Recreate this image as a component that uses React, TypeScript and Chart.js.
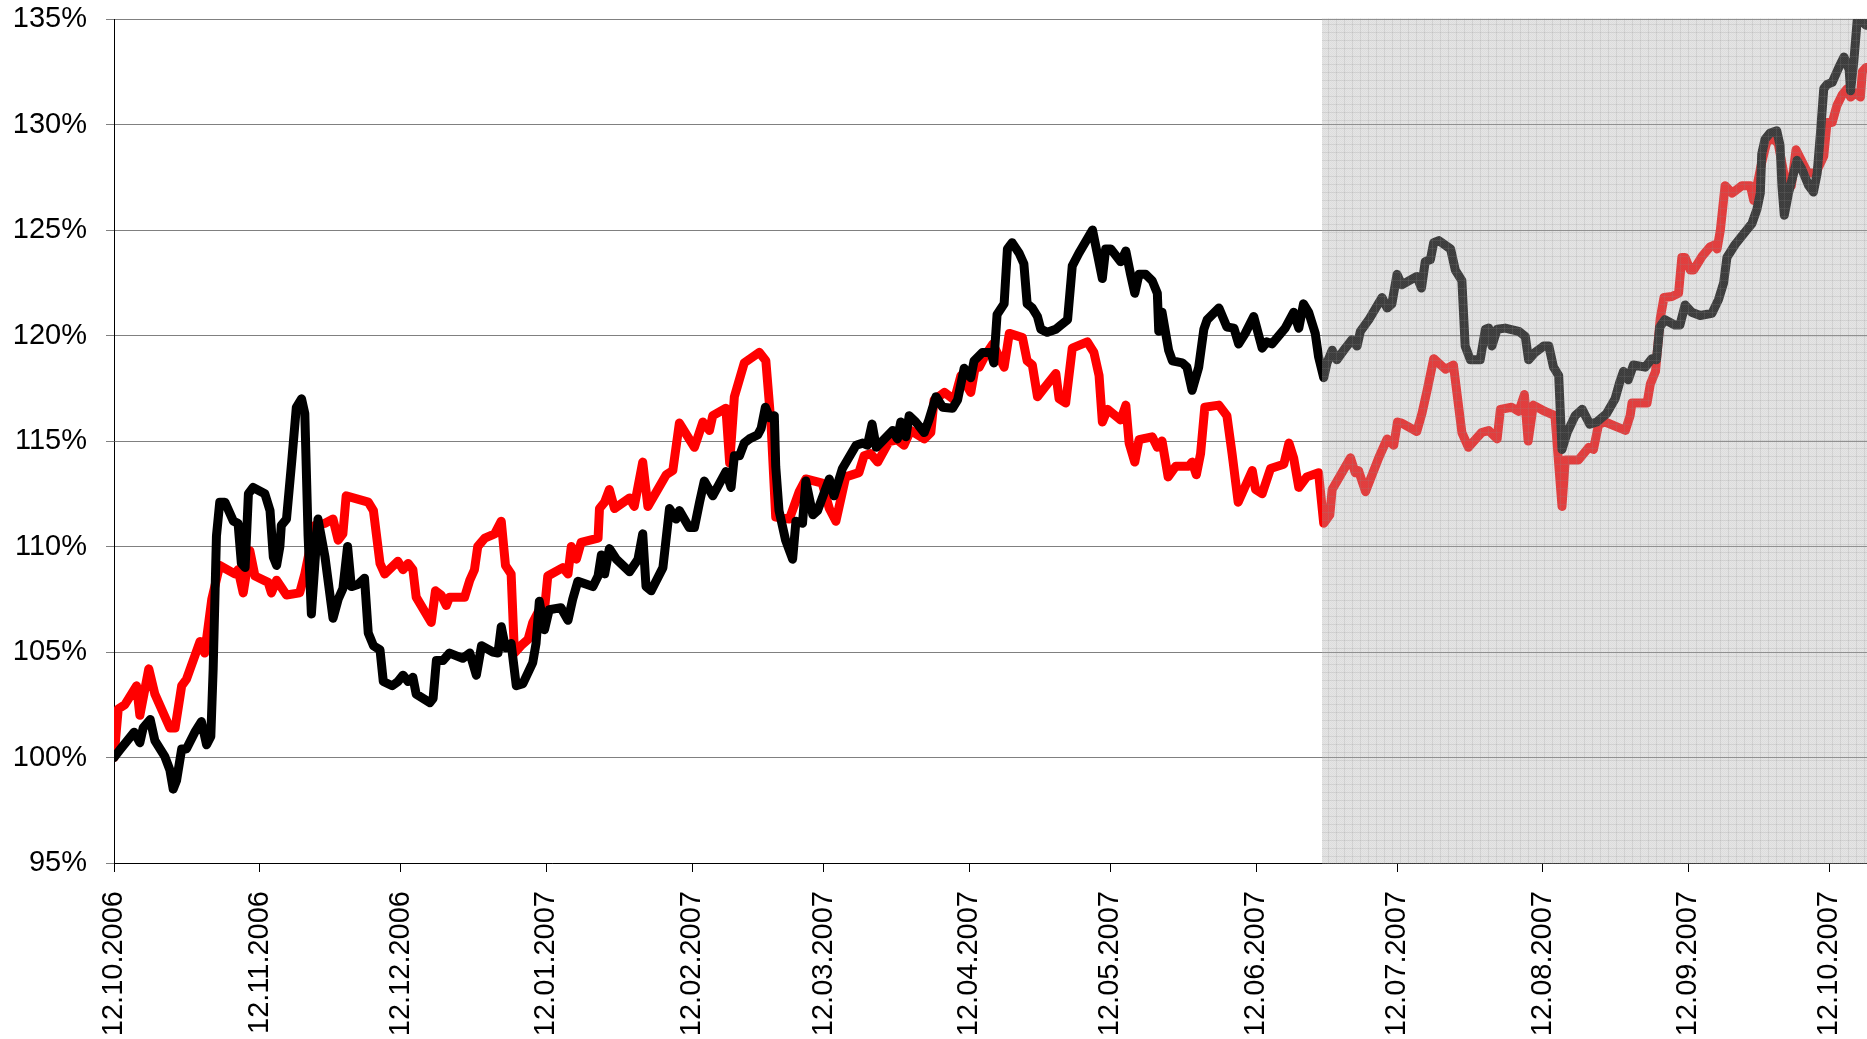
import React, { useEffect, useRef } from "react";
import { Chart, registerables } from "chart.js";

Chart.register(...registerables);

// x = days since 12.10.2006
const TICK_DAYS = [0, 31, 61, 92, 123, 151, 182, 212, 243, 273, 304, 335, 365];
const TICK_LABELS = [
  "12.10.2006", "12.11.2006", "12.12.2006", "12.01.2007", "12.02.2007", "12.03.2007",
  "12.04.2007", "12.05.2007", "12.06.2007", "12.07.2007", "12.08.2007", "12.09.2007", "12.10.2007",
];
const X_MAX_DAY = 373;
const SHADE_START_DAY = 257;
const Y_TICKS = [95, 100, 105, 110, 115, 120, 125, 130, 135];

const BLACK_DAYS = [
  0, 1.4, 4.3, 5.5, 6.2, 7.7, 8.7, 10.8, 11.9, 12.6, 13.3, 14.4, 15.4, 17.2, 18.6, 19.7, 20.6, 21.1, 21.8, 22.5,
  23.6, 25.4, 26.4, 27.1, 27.9, 28.6, 29.6, 32.1, 33.2, 33.9, 34.6, 35.3, 35.6, 36.7, 37.8, 38.8, 39.9, 40.6, 41.3, 42.0,
  43.4, 44.9, 46.6, 47.7, 48.7, 49.7, 50.5, 51.9, 53.3, 54.1, 55.2, 56.6, 57.3, 59.2, 60.4, 61.5, 62.6, 63.6, 64.3, 67.2,
  67.9, 68.6, 70.0, 71.4, 74.2, 75.7, 77.1, 78.2, 80.6, 81.7, 82.4, 83.3, 84.5, 85.6, 87.0, 89.1, 89.8, 90.5, 91.6, 92.6,
  95.1, 96.6, 97.6, 98.7, 101.9, 103.0, 103.7, 104.4, 105.4, 106.9, 109.7, 111.5, 112.5, 113.2, 114.3, 116.8, 118.2, 119.6, 120.3, 122.4,
  123.5, 124.6, 125.6, 127.4, 130.2, 131.3, 132.0, 133.1, 134.1, 135.2, 137.0, 137.7, 138.6, 139.5, 140.5, 140.8, 141.5, 142.9, 144.4, 145.1,
  146.5, 147.2, 148.7, 149.7, 152.2, 153.2, 155.0, 157.9, 159.3, 160.3, 161.3, 162.2, 165.7, 166.7, 167.4, 168.5, 169.2, 170.6, 172.4, 173.4,
  174.9, 176.3, 178.4, 179.5, 180.9, 182.3, 183.0, 184.8, 186.6, 187.2, 187.9, 189.4, 190.1, 191.1, 192.6, 193.6, 194.3, 195.4, 196.5, 197.2,
  198.6, 200.4, 201.5, 202.9, 203.9, 205.3, 208.2, 209.3, 210.3, 211.0, 212.1, 214.2, 215.3, 216.3, 217.2, 218.1, 219.5, 220.9, 222.0, 222.3,
  223.0, 224.4, 225.2, 227.3, 228.3, 229.4, 230.8, 231.9, 232.6, 235.1, 236.8, 238.3, 239.3, 240.7, 242.5, 244.3, 245.3, 246.4, 249.2, 251.0,
  252.1, 253.1, 254.2, 255.6, 256.3, 257.4, 258.1, 259.2, 260.2, 262.0, 263.4, 264.5, 265.2, 267.0, 269.8, 270.9, 271.9, 273.0, 274.0, 277.2,
  278.2, 279.0, 280.1, 280.8, 281.9, 284.4, 285.4, 286.8, 287.5, 288.6, 290.7, 291.8, 292.5, 293.2, 294.3, 296.0, 298.9, 300.3, 301.0, 302.4,
  304.2, 305.3, 306.3, 307.4, 308.1, 309.2, 310.9, 312.4, 314.0, 315.5, 317.6, 319.4, 320.4, 321.2, 322.2, 323.3, 325.8, 327.2, 328.2, 328.9,
  330.0, 332.1, 333.2, 334.3, 335.7, 337.5, 340.0, 341.4, 342.5, 343.2, 344.9, 347.4, 348.5, 349.6, 350.3, 350.6, 351.3, 352.4, 353.8, 354.5,
  354.9, 355.4, 356.3, 358.1, 359.1, 360.6, 361.6, 362.4, 363.1, 363.8, 364.5, 365.6, 367.0, 368.1, 369.2, 369.5, 370.2, 370.9, 372.0, 372.8,
];
const BLACK_VALUES = [
  100.0, 100.4, 101.2, 100.7, 101.4, 101.8, 100.8, 100.05, 99.4, 98.5, 98.9, 100.4, 100.4, 101.2, 101.7, 100.6, 101.0, 104.2, 110.5, 112.1,
  112.1, 111.2, 111.1, 109.2, 109.0, 112.5, 112.8, 112.5, 111.7, 109.5, 109.1, 110.0, 111.0, 111.3, 114.0, 116.6, 117.0, 116.3, 110.5, 106.8,
  111.3, 109.5, 106.6, 107.5, 108.0, 110.0, 108.1, 108.2, 108.5, 105.9, 105.3, 105.1, 103.6, 103.4, 103.6, 103.9, 103.6, 103.8, 103.0, 102.6,
  102.8, 104.6, 104.6, 104.95, 104.7, 104.95, 103.9, 105.3, 105.0, 104.95, 106.2, 105.2, 105.4, 103.4, 103.5, 104.5, 105.4, 107.4, 106.05, 107.0,
  107.1, 106.5, 107.5, 108.35, 108.1, 108.6, 109.6, 108.7, 109.9, 109.4, 108.8, 109.4, 110.6, 108.1, 107.9, 109.0, 111.8, 111.3, 111.7, 110.9,
  110.9, 112.1, 113.1, 112.4, 113.55, 112.8, 114.3, 114.3, 114.9, 115.1, 115.3, 115.6, 116.6, 116.1, 116.2, 113.8, 111.7, 110.3, 109.4, 111.2,
  111.1, 113.1, 111.5, 111.7, 113.2, 112.4, 113.7, 114.8, 114.9, 114.8, 115.8, 114.7, 115.5, 115.1, 115.9, 115.2, 116.2, 115.9, 115.4, 116.0,
  117.1, 116.6, 116.55, 116.95, 118.45, 118.0, 118.8, 119.2, 119.2, 118.7, 121.0, 121.5, 124.1, 124.4, 123.9, 123.4, 121.5, 121.3, 120.9, 120.3,
  120.15, 120.3, 120.5, 120.75, 123.3, 123.9, 125.0, 123.8, 122.7, 124.1, 124.1, 123.5, 124.0, 122.9, 122.0, 122.9, 122.9, 122.6, 122.0, 120.2,
  121.1, 119.3, 118.8, 118.7, 118.5, 117.4, 118.5, 120.3, 120.75, 121.3, 120.4, 120.35, 119.6, 120.1, 120.9, 119.4, 119.7, 119.6, 120.35, 121.1,
  120.35, 121.5, 121.1, 120.1, 119.0, 118.0, 118.7, 119.3, 118.85, 119.4, 119.8, 119.5, 120.2, 120.75, 121.8, 121.3, 121.5, 122.9, 122.4, 122.8,
  122.25, 123.5, 123.6, 124.4, 124.5, 124.1, 123.1, 122.6, 119.5, 118.85, 118.85, 120.3, 120.35, 119.5, 120.3, 120.35, 120.2, 119.95, 118.85, 119.2,
  119.5, 119.5, 118.5, 118.1, 114.6, 115.4, 116.2, 116.5, 115.8, 115.9, 116.3, 117.0, 117.8, 118.3, 117.9, 118.6, 118.5, 118.9, 118.85, 120.4,
  120.75, 120.5, 120.5, 121.45, 121.1, 120.95, 121.05, 121.7, 122.5, 123.7, 124.3, 125.0, 125.3, 126.0, 126.75, 128.6, 129.3, 129.6, 129.7, 129.0,
  127.1, 125.7, 126.75, 128.3, 127.9, 127.1, 126.8, 127.7, 129.6, 131.7, 131.9, 132.0, 132.7, 133.2, 132.6, 131.6, 133.0, 134.9, 134.9, 134.7,
];

const RED_DAYS = [
  0, 0.9, 2.3, 4.8, 5.5, 7.4, 8.7, 11.9, 13.0, 14.4, 15.4, 18.3, 19.3, 20.8, 22.5, 25.7, 26.4, 27.5, 28.9, 30.0,
  32.8, 33.5, 34.6, 36.7, 39.5, 40.6, 42.7, 44.9, 46.6, 47.7, 48.7, 49.4, 54.1, 55.2, 56.6, 57.6, 60.4, 61.5, 62.6, 63.6,
  64.3, 67.5, 68.4, 69.6, 70.7, 71.4, 74.6, 75.7, 76.7, 77.4, 78.9, 81.0, 82.4, 83.3, 84.5, 85.2, 86.6, 88.1, 89.1, 90.5,
  91.6, 92.3, 95.5, 96.6, 97.3, 98.4, 99.4, 103.0, 103.3, 104.4, 105.4, 106.5, 109.7, 110.7, 112.5, 113.6, 117.5, 118.9, 120.3, 123.5,
  125.3, 126.7, 127.4, 130.2, 131.0, 132.0, 134.1, 137.3, 138.7, 139.8, 140.8, 143.7, 145.8, 147.2, 150.7, 152.2, 153.6, 155.7, 158.5, 159.6,
  161.0, 162.5, 164.9, 166.7, 168.1, 169.5, 172.4, 173.8, 174.5, 176.7, 178.8, 180.2, 182.3, 183.4, 184.1, 185.5, 187.0, 189.4, 190.5, 193.3,
  194.3, 195.4, 196.5, 197.9, 200.4, 201.1, 202.5, 203.9, 207.1, 208.5, 209.6, 210.3, 211.4, 214.2, 215.3, 216.0, 217.2, 218.1, 220.9, 222.0,
  223.0, 224.3, 225.9, 228.7, 229.4, 230.3, 231.2, 232.1, 235.1, 236.8, 237.9, 239.2, 242.2, 242.9, 244.3, 246.1, 248.9, 250.0, 251.0, 252.1,
  253.8, 256.3, 257.4, 258.7, 259.2, 263.1, 264.1, 264.8, 266.3, 269.1, 270.9, 272.3, 273.1, 274.0, 277.2, 278.3, 279.4, 280.8, 283.3, 285.0,
  286.8, 288.2, 291.0, 292.5, 294.3, 295.0, 297.4, 298.9, 300.1, 300.9, 302.0, 304.5, 306.6, 308.1, 308.8, 311.6, 313.8, 314.8, 315.9, 317.3,
  319.4, 321.6, 322.6, 323.0, 326.2, 326.9, 328.0, 329.0, 329.8, 331.5, 332.9, 333.6, 334.3, 335.4, 336.1, 337.9, 339.6, 340.7, 341.1, 341.8,
  342.8, 344.3, 346.4, 348.2, 348.9, 349.6, 350.6, 351.6, 352.7, 354.1, 355.8, 356.9, 357.9, 360.4, 362.1, 363.8, 364.5, 365.6, 366.6, 367.7,
  368.8, 369.5, 370.5, 371.6, 372.0, 372.8,
];
const RED_VALUES = [
  100.0, 102.3, 102.5, 103.4, 102.0, 104.2, 103.0, 101.4, 101.4, 103.4, 103.7, 105.5, 104.95, 107.5, 109.1, 108.7, 108.9, 107.8, 109.8, 108.6,
  108.3, 107.8, 108.4, 107.7, 107.8, 108.7, 111.0, 111.1, 111.3, 110.3, 110.6, 112.4, 112.1, 111.7, 109.2, 108.7, 109.3, 108.9, 109.2, 108.9,
  107.6, 106.4, 107.9, 107.7, 107.2, 107.6, 107.6, 108.4, 108.9, 110.0, 110.4, 110.6, 111.2, 109.1, 108.7, 104.95, 105.3, 105.6, 106.4, 107.0,
  107.0, 108.6, 109.0, 108.7, 110.0, 109.4, 110.2, 110.4, 111.8, 112.1, 112.7, 111.8, 112.3, 111.9, 114.0, 111.9, 113.4, 113.6, 115.85, 114.7,
  115.9, 115.5, 116.2, 116.55, 113.95, 117.1, 118.7, 119.2, 118.8, 115.8, 111.4, 111.3, 112.6, 113.2, 113.0, 111.8, 111.2, 113.3, 113.5, 114.3,
  114.4, 114.0, 114.97, 115.05, 114.8, 115.5, 115.1, 115.4, 116.95, 117.3, 116.95, 118.1, 117.3, 118.7, 118.5, 119.1, 119.6, 118.5, 120.1, 119.9,
  118.8, 118.6, 117.1, 117.5, 118.2, 117.0, 116.8, 119.4, 119.7, 119.2, 118.1, 115.9, 116.5, 116.0, 116.7, 114.9, 114.0, 115.06, 115.2, 114.7,
  115.0, 113.3, 113.8, 113.8, 114.0, 113.4, 114.4, 116.6, 116.7, 116.2, 114.4, 112.1, 113.6, 112.7, 112.5, 113.7, 113.9, 114.9, 114.2, 112.8,
  113.3, 113.5, 111.1, 111.5, 112.7, 114.2, 113.5, 113.6, 112.6, 114.2, 115.1, 114.8, 115.9, 115.85, 115.45, 116.3, 117.4, 118.9, 118.4, 118.6,
  115.4, 114.7, 115.4, 115.5, 115.1, 116.5, 116.6, 116.4, 117.2, 115.0, 116.7, 116.4, 116.2, 111.9, 114.1, 114.1, 114.7, 114.6, 115.8, 115.9,
  115.7, 115.5, 116.2, 116.8, 116.8, 117.7, 118.3, 120.8, 121.8, 121.85, 122.0, 123.7, 123.7, 123.1, 123.1, 123.75, 124.2, 124.3, 124.1, 125.0,
  127.1, 126.75, 127.1, 127.1, 126.4, 127.1, 128.2, 129.1, 129.4, 129.1, 127.1, 127.1, 128.8, 127.7, 127.7, 128.5, 130.1, 130.1, 130.9, 131.4,
  131.7, 131.3, 131.5, 131.3, 132.5, 132.7,
];

const FONT_FAMILY = "'Liberation Sans', Arial, sans-serif";

function makePattern(ctx: CanvasRenderingContext2D): CanvasPattern | string {
  const c = document.createElement("canvas");
  c.width = 8;
  c.height = 8;
  const p = c.getContext("2d");
  if (!p) return "rgba(175,175,175,0.34)";
  p.fillStyle = "rgba(175,175,175,0.33)";
  p.fillRect(0, 0, 8, 8);
  p.fillStyle = "rgba(150,150,150,0.10)";
  for (let y = 0; y < 8; y++) {
    for (let x = y % 2; x < 8; x += 2) p.fillRect(x, y, 1, 1);
  }
  p.fillStyle = "rgba(140,140,140,0.18)";
  p.fillRect(0, 0, 8, 1);
  p.fillRect(0, 0, 1, 8);
  return ctx.createPattern(c, "repeat") || "rgba(175,175,175,0.34)";
}

const shadePlugin = {
  id: "shadeRegion",
  afterDatasetsDraw(chart: any) {
    const { ctx, chartArea, scales } = chart;
    const x0 = Math.round(scales.x.getPixelForValue(SHADE_START_DAY));
    ctx.save();
    ctx.fillStyle = makePattern(ctx);
    ctx.fillRect(x0, chartArea.top - 0.5, chartArea.right - x0, chartArea.bottom - chartArea.top + 1.5);
    ctx.restore();
  },
};

export default function App() {
  const canvasRef = useRef<HTMLCanvasElement | null>(null);

  useEffect(() => {
    document.body.style.margin = "0";
    const canvas = canvasRef.current;
    if (!canvas) return;
    const black = BLACK_DAYS.map((d, i) => ({ x: d, y: BLACK_VALUES[i] }));
    const red = RED_DAYS.map((d, i) => ({ x: d, y: RED_VALUES[i] }));

    const lineStyle = {
      borderWidth: 9,
      pointRadius: 0,
      tension: 0,
      borderJoinStyle: "round",
      borderCapStyle: "round",
      fill: false,
    };

    const chart = new Chart(canvas, {
      type: "line",
      data: {
        datasets: [
          { data: black, borderColor: "#000000", backgroundColor: "#000000", ...lineStyle },
          { data: red, borderColor: "#FF0000", backgroundColor: "#FF0000", ...lineStyle },
        ],
      },
      options: {
        animation: false,
        responsive: false,
        events: [],
        layout: { padding: { top: 19, left: 0, right: 0, bottom: 0 } },
        plugins: { legend: { display: false }, tooltip: { enabled: false } },
        scales: {
          x: {
            type: "linear",
            min: 0,
            max: X_MAX_DAY,
            afterBuildTicks: (s: any) => {
              s.ticks = TICK_DAYS.map((v) => ({ value: v }));
            },
            afterFit: (s: any) => {
              s.height = 176;
              s.paddingLeft = 0;
              s.paddingRight = 0;
              s.paddingTop = 0;
              s.paddingBottom = 0;
            },
            grid: { drawOnChartArea: false, drawTicks: true, tickLength: 9, color: "#000000", lineWidth: 1 },
            border: { color: "#000000", width: 1 },
            ticks: {
              autoSkip: false,
              maxRotation: 90,
              minRotation: 90,
              padding: 19,
              color: "#000000",
              font: { family: FONT_FAMILY, size: 29 },
              callback: (_v: any, i: number) => TICK_LABELS[i],
            },
          },
          y: {
            type: "linear",
            min: 95,
            max: 135,
            afterBuildTicks: (s: any) => {
              s.ticks = Y_TICKS.map((v) => ({ value: v }));
            },
            afterFit: (s: any) => {
              s.width = 114;
              s.paddingTop = 0;
              s.paddingBottom = 0;
              s.paddingLeft = 0;
              s.paddingRight = 0;
            },
            grid: { color: "#808080", lineWidth: 1, tickLength: 8, drawTicks: true },
            border: { color: "#000000", width: 1 },
            ticks: {
              padding: 19,
              color: "#000000",
              font: { family: FONT_FAMILY, size: 29 },
              callback: (v: any) => `${v}%`,
            },
          },
        },
      },
      plugins: [shadePlugin],
    } as any);

    return () => chart.destroy();
  }, []);

  return (
    <div style={{ position: "absolute", left: 0, top: 0, width: 1867, height: 1039 }}>
      <canvas ref={canvasRef} width={1867} height={1039} style={{ display: "block", width: 1867, height: 1039 }} />
    </div>
  );
}
